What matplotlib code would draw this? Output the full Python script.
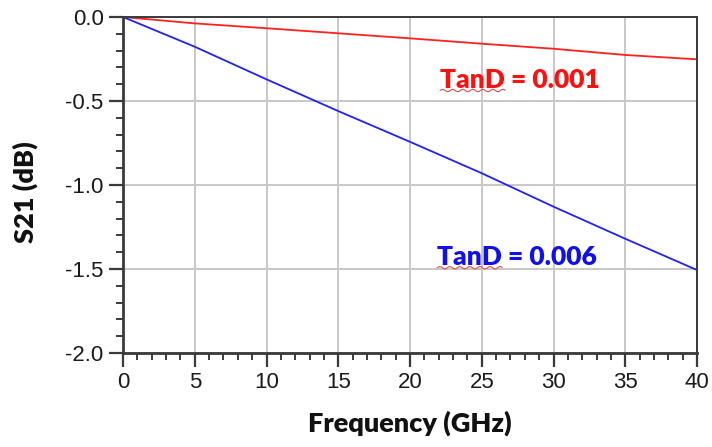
import matplotlib
matplotlib.use("Agg")
import matplotlib.pyplot as plt
import numpy as np
from matplotlib.ticker import MultipleLocator

# insertion loss of the line for two dielectric loss tangents
freq_ghz = [0, 5, 10, 15, 20, 25, 30, 35, 40]
s21_tand_001 = [0.0, -0.038, -0.067, -0.097, -0.127, -0.159, -0.189, -0.226, -0.252]
s21_tand_006 = [0.0, -0.177, -0.371, -0.560, -0.743, -0.930, -1.129, -1.320, -1.506]

LABEL_001 = "TanD = 0.001"
LABEL_006 = "TanD = 0.006"
AXIS_DARK = "#3a3a3a"
GRID = "#c8c8c8"

plt.rcParams["font.family"] = ["Liberation Sans", "DejaVu Sans"]

fig = plt.figure(figsize=(7.12, 4.47), dpi=100)
ax = fig.add_axes([123 / 712, 1 - 353 / 447, (697 - 123) / 712, (353 - 17) / 447])

ax.plot(freq_ghz, s21_tand_001, color="#ff2020", lw=1.3)
ax.plot(freq_ghz, s21_tand_006, color="#2020ff", lw=1.3)

ax.set_xlim(0, 40)
ax.set_ylim(-2.0, 0.0)
ax.xaxis.set_major_locator(MultipleLocator(5))
ax.xaxis.set_minor_locator(MultipleLocator(1))
ax.yaxis.set_major_locator(MultipleLocator(0.5))
ax.yaxis.set_minor_locator(MultipleLocator(0.1))
ax.yaxis.set_major_formatter(plt.FuncFormatter(lambda v, _: f"{v:.1f}"))

ax.grid(True, which="major", color=GRID, lw=1.4)
ax.set_axisbelow(True)
for side in ("left", "bottom"):
    ax.spines[side].set_color(AXIS_DARK)
    ax.spines[side].set_linewidth(2.0)
for side in ("top", "right"):
    ax.spines[side].set_color(AXIS_DARK)
    ax.spines[side].set_linewidth(1.4)

ax.tick_params(which="major", length=10, width=1.6, color=AXIS_DARK,
               labelsize=16, labelcolor="#1a1a1a", pad=4)
ax.tick_params(which="minor", length=5, width=1.4, color=AXIS_DARK)

lab_font = dict(family=["Lato", "DejaVu Sans"], weight="heavy", size=19.5, color="#111111")
ax.set_xlabel("Frequency (GHz)", labelpad=12, **lab_font)
ax.set_ylabel("S21 (dB)", **lab_font)
ax.yaxis.set_label_coords(-0.148, 0.48)

txt_font = dict(family=["Lato", "DejaVu Sans"], weight="heavy", size=19, va="center")
t1 = ax.text(22.1, -0.375, LABEL_001, color="#ff1010", **txt_font)
t2 = ax.text(21.9, -1.43, LABEL_006, color="#1010ee", **txt_font)

# wavy spell-check underline below the "TanD" part of each label
fig.canvas.draw()
renderer = fig.canvas.get_renderer()
for t in (t1, t2):
    full = t.get_window_extent(renderer)
    probe = ax.text(*t.get_position(), "TanD", **txt_font)
    w = probe.get_window_extent(renderer).width
    probe.remove()
    xs = np.linspace(full.x0, full.x0 + w, 60)
    ys = full.y0 + 1.5 + 1.2 * np.sin((xs - full.x0) / 1.6)
    fig.add_artist(plt.Line2D(xs, ys, transform=None, color="#e05050", lw=0.8))

fig.savefig("out.png", dpi=100)
